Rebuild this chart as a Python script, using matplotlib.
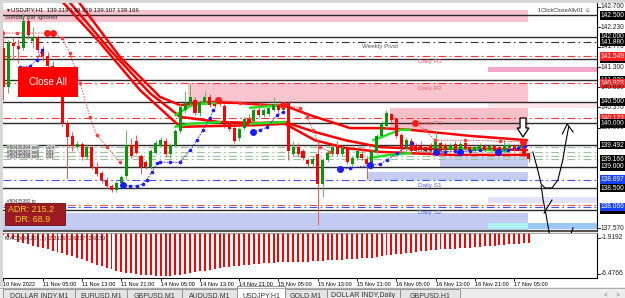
import matplotlib
matplotlib.use('Agg')
import matplotlib.pyplot as plt
from matplotlib.patches import Rectangle, Polygon
import numpy as np

plt.rcParams['font.family'] = ['Liberation Sans', 'DejaVu Sans']

# ---- data (USDJPY H1, 10 Nov 21:00 .. 17 Nov 08:00) ----

bar_open = [141.75, 140.85, 141.86, 141.80, 141.75, 142.38, 141.90, 142.00, 141.72, 141.55,
            141.32, 141.20, 140.85, 140.00, 139.70, 139.46, 139.52, 139.22, 139.45, 139.00,
            138.84, 138.70, 138.56, 138.45, 138.62, 138.78, 139.50, 139.58, 139.25, 139.10,
            139.00, 139.32, 139.48, 139.60, 139.28, 139.50, 139.82, 140.30, 140.45, 140.55,
            140.25, 140.50, 140.60, 140.45, 140.55, 140.40, 139.98, 139.90, 139.65, 139.90,
            140.10, 140.05, 140.30, 140.20, 140.22, 140.30, 140.42, 140.32, 140.48, 139.30,
            139.45, 139.35, 139.15, 139.05, 139.30, 138.60, 139.15, 139.30, 139.45, 139.30,
            139.42, 139.05, 139.20, 139.30, 139.18, 139.00, 139.35, 139.70, 139.95, 140.22,
            140.10, 139.72, 139.40, 139.60, 139.50, 139.50, 139.45, 139.50, 139.35, 139.55,
            139.50, 139.38, 139.52, 139.38, 139.55, 139.45, 139.35, 139.40, 139.48, 139.38,
            139.48, 139.45, 139.38, 139.42, 139.50, 139.40, 139.55, 139.319]
bar_high = [142.15, 141.92, 142.00, 141.95, 142.55, 142.45, 142.22, 142.05, 141.78, 141.65,
            141.45, 141.25, 140.90, 140.08, 139.80, 139.58, 139.56, 139.50, 139.50, 139.10,
            138.90, 138.75, 138.60, 138.66, 138.80, 139.85, 139.65, 139.72, 139.30, 139.15,
            139.40, 139.62, 139.68, 139.65, 139.55, 139.88, 140.45, 140.75, 140.92, 140.62,
            140.55, 140.75, 140.68, 140.55, 140.62, 140.45, 140.05, 139.95, 139.92, 140.15,
            140.22, 140.35, 140.38, 140.35, 140.40, 140.62, 140.48, 140.48, 140.52, 139.58,
            139.55, 139.40, 139.20, 139.25, 139.62, 139.20, 139.38, 139.50, 139.58, 139.48,
            139.48, 139.25, 139.40, 139.42, 139.25, 139.40, 139.75, 140.05, 140.32, 140.25,
            140.12, 139.78, 139.68, 139.65, 139.55, 139.58, 139.50, 139.55, 139.85, 139.60,
            139.55, 139.55, 139.58, 139.58, 139.60, 139.50, 139.50, 139.55, 139.52, 139.52,
            139.52, 139.50, 139.65, 139.55, 139.52, 139.52, 139.60, 139.319]
bar_low = [140.55, 140.70, 141.50, 141.40, 141.70, 141.95, 141.75, 141.62, 141.45, 141.25,
           141.10, 140.75, 139.95, 138.72, 139.35, 139.40, 139.15, 139.18, 138.95, 138.78,
           138.62, 138.50, 138.42, 138.42, 138.58, 138.72, 139.20, 139.28, 138.82, 138.95,
           138.95, 139.28, 139.45, 139.22, 139.20, 139.45, 139.78, 140.25, 140.40, 140.20,
           140.18, 140.45, 140.38, 140.35, 140.40, 139.90, 139.82, 139.55, 139.58, 139.85,
           139.95, 140.00, 140.15, 140.15, 140.18, 140.28, 140.25, 140.30, 139.15, 139.25,
           139.25, 139.15, 138.98, 139.00, 137.65, 138.30, 139.10, 139.25, 139.25, 139.25,
           139.05, 139.00, 139.15, 139.15, 138.72, 138.95, 139.30, 139.65, 139.90, 140.02,
           139.65, 139.35, 139.35, 139.30, 139.30, 139.35, 139.30, 139.30, 139.30, 139.30,
           139.35, 139.35, 139.33, 139.35, 139.35, 139.30, 139.32, 139.38, 139.33, 139.35,
           139.32, 139.33, 139.35, 139.40, 139.35, 139.38, 139.22, 139.107]
bar_close = [140.85, 141.85, 141.78, 141.72, 142.38, 142.05, 142.00, 141.70, 141.55, 141.32,
             141.20, 140.85, 140.00, 139.68, 139.48, 139.52, 139.22, 139.45, 139.00, 138.82,
             138.68, 138.55, 138.45, 138.62, 138.75, 139.50, 139.25, 139.32, 139.00, 139.00,
             139.35, 139.55, 139.62, 139.28, 139.50, 139.82, 140.38, 140.48, 140.60, 140.25,
             140.50, 140.62, 140.42, 140.40, 140.45, 139.95, 139.88, 139.60, 139.88, 140.10,
             140.00, 140.30, 140.20, 140.30, 140.35, 140.45, 140.30, 140.42, 139.35, 139.45,
             139.30, 139.20, 139.05, 139.18, 138.60, 139.15, 139.32, 139.45, 139.30, 139.42,
             139.10, 139.20, 139.35, 139.20, 139.05, 139.35, 139.70, 140.00, 140.25, 140.08,
             139.70, 139.40, 139.62, 139.35, 139.35, 139.40, 139.35, 139.35, 139.60, 139.35,
             139.40, 139.50, 139.38, 139.52, 139.40, 139.35, 139.45, 139.50, 139.38, 139.48,
             139.36, 139.38, 139.50, 139.50, 139.40, 139.48, 139.25, 139.166]

macd_hist = [-1.58, -1.85, -2.10, -2.40, -2.60, -2.75, -2.90, -3.10, -3.25, -3.40,
             -3.55, -3.70, -3.85, -4.05, -4.25, -4.45, -4.65, -4.85, -5.05, -5.30,
             -5.50, -5.70, -5.90, -6.05, -6.20, -6.30, -6.40, -6.50, -6.55, -6.60,
             -6.65, -6.70, -6.72, -6.72, -6.70, -6.65, -6.60, -6.50, -6.40, -6.25,
             -6.15, -6.05, -5.95, -5.85, -5.75, -5.65, -5.60, -5.50, -5.45, -5.38,
             -5.30, -5.25, -5.20, -5.12, -5.08, -5.05, -5.02, -5.00, -4.98, -4.97,
             -4.96, -4.95, -4.92, -4.90, -4.85, -4.80, -4.78, -4.74, -4.72, -4.70,
             -4.65, -4.60, -4.55, -4.52, -4.48, -4.42, -4.35, -4.25, -4.15, -4.05,
             -3.98, -3.92, -3.85, -3.78, -3.70, -3.62, -3.55, -3.48, -3.42, -3.38,
             -3.35, -3.32, -3.28, -3.25, -3.22, -3.20, -3.15, -3.08, -3.00, -2.95,
             -2.90, -2.84, -2.80, -2.75, -2.70, -2.65, -2.60, -2.58]

date_bars = [0, 8, 16, 24, 32, 40, 48, 56, 64, 72, 80, 88, 96, 104]
date_labels = ['10 Nov 2022', '11 Nov 05:00', '11 Nov 13:00', '11 Nov 21:00', '14 Nov 05:00',
               '14 Nov 13:00', '14 Nov 21:00', '15 Nov 05:00', '15 Nov 13:00', '15 Nov 21:00',
               '16 Nov 05:00', '16 Nov 13:00', '16 Nov 21:00', '17 Nov 05:00']

# red moving averages (bar index, price)
ma1_bar = [14, 23.7, 31.9, 36, 42, 48, 54, 57, 62.4, 70.6, 76.7, 82.8, 88.9, 95, 106.6]
ma1_val = [143.01, 141.54, 140.61, 140.42, 140.49, 140.47, 140.42, 140.42, 140.19, 139.89,
           139.89, 139.85, 139.78, 139.71, 139.61]
ma2_bar = [12, 21.7, 29.8, 36, 44, 52.2, 57.3, 63.4, 69.6, 76.7, 84.8, 97, 106.6]
ma2_val = [143.0, 141.70, 140.70, 140.15, 140.03, 140.01, 140.03, 139.80, 139.61, 139.45,
           139.41, 139.41, 139.38]
ma3_bar = [10.5, 19.7, 27.8, 36, 44, 52, 57.3, 63.4, 69.6, 76.7, 91, 106.6]
ma3_val = [143.0, 141.86, 140.77, 139.92, 139.94, 139.96, 139.99, 139.61, 139.43, 139.34,
           139.27, 139.27]

# green (rising) pieces of the averages
green_bars = [[35, 38, 40, 44.1], [35, 38, 44.1], [50.2, 57.3], [50.2, 57.3],
              [75.3, 80.8, 82.8], [74.6, 78.7, 82.8], [87.5, 102.5]]
green_vals = [[140.19, 140.40, 140.45, 140.47], [139.92, 139.99, 140.03], [140.36, 140.43],
              [139.99, 140.03], [139.61, 139.85, 139.85], [139.20, 139.27, 139.31],
              [139.45, 139.36]]

# dotted red trailing line
red_dot_bars = [[-0.1, 2.7, 8.9, 10.1, 11.9, 13.5, 15.6, 17.6, 19, 21.1, 23.7],
                [43.7, 48.2, 52.2, 56.9, 60.4, 61.8, 63.0, 64.5, 66.5],
                [83.8, 85.8, 87.9, 94, 101.1, 105.8]]
red_dot_vals = [[142.09, 142.09, 142.09, 142.09, 141.98, 141.63, 140.93, 140.15, 139.73, 139.45, 139.10],
                [140.54, 140.47, 140.45, 140.43, 140.36, 140.15, 139.85, 139.45, 139.34],
                [140.01, 139.85, 139.61, 139.61, 139.59, 139.57]]
red_big_bar = [8.9, 10.1, 43.7, 56.9, 83.8, 105.8]
red_big_val = [142.09, 142.09, 140.54, 140.43, 140.01, 139.57]

# dotted blue trailing line
blue_dot_bars = [[3.4, 5.4, 6.8, 7.8],
                 [24.3, 25.8, 27.2, 28.4, 29.2, 30.2, 31.3, 31.9, 33.9, 35.9, 38, 39.4, 40.6, 42.1, 42.7],
                 [50.8, 52.2, 53.7, 55.7, 56.9],
                 [68.5, 70.6, 74.6, 76.7, 78.1, 80.1, 83.2],
                 [88, 90, 92], [93, 95, 97], [100.7, 102.7, 104.8, 106.2]]
blue_dot_vals = [[141.30, 141.33, 141.47, 141.70],
                 [138.57, 138.55, 138.55, 138.60, 138.69, 138.87, 139.08, 139.10, 139.10, 139.10,
                  139.38, 139.61, 139.85, 140.12, 140.31],
                 [139.80, 139.85, 139.91, 140.19, 140.26],
                 [138.94, 138.96, 139.03, 139.06, 139.15, 139.31, 139.55],
                 [139.34, 139.34, 139.36], [139.34, 139.36, 139.38], [139.34, 139.38, 139.43, 139.47]]
blue_big_bar = [24.3, 50.8, 68.5, 74.6, 88, 93, 100.7]
blue_big_val = [138.57, 139.80, 138.94, 139.03, 139.34, 139.34, 139.34]

# horizontal levels
round_levels = [142.5, 142.0, 141.5, 141.0, 140.5, 140.0, 139.5, 139.0, 138.5, 138.0]
weekly_pivot = 141.88
daily_r = [141.549, 140.923, 140.123]
daily_s = [138.697, 138.066]
tp_level = 138.10
order_levels = [139.45, 139.34, 139.24, 139.166]

# shaded zones: bar range and price range
zone_x0 = [-1, 37.6, 78.7, 98.7, 98.7, 88.9, 74.0, 98.7, -1, 98.7, 106.8]
zone_x1 = [106.8, 106.8, 106.8, 121, 121, 106.8, 106.8, 121, 106.8, 106.8, 121]
zone_lo = [142.346, 140.494, 139.846, 140.355, 141.188, 138.97, 138.69, 138.16, 137.50, 137.555, 137.555]
zone_hi = [142.625, 140.934, 140.355, 140.494, 141.304, 139.22, 138.87, 138.30, 137.925, 137.69, 137.69]

level_names = ['Daily R3', 'Daily R2', 'Daily R1', 'Daily Pivot', 'Daily S1', 'Daily S2']
level_name_val = [141.44, 140.80, 139.985, 139.38, 138.55, 137.925]

label_prices = [142.700, 142.500, 142.230, 142.000, 141.880, 141.770, 141.500, 141.549, 141.300,
                141.000, 140.923, 140.830, 140.500, 140.370, 140.123, 140.000, 139.900, 139.430,
                139.492, 139.166, 139.000, 138.697, 138.500, 138.000, 138.066, 137.570]
label_kinds = ['n', 'k', 'n', 'k', 'k', 'n', 'k', 'r', 'n',
               'k', 'r', 'n', 'k', 'n', 'r', 'k', 'n', 'n',
               'k', 'k', 'k', 'b', 'k', 'k', 'b', 'n']

# hand drawn arrows (bar index, price)
draw_up_bar = [107.8, 108.7, 109.5, 110.3, 111.7, 112.9, 113.9, 114.6, 115.1]
draw_up_val = [139.336, 138.966, 138.596, 138.503, 138.503, 138.688, 139.151, 139.614, 139.915]
draw_up_head_bar = [113.8, 114.8, 116.0]
draw_up_head_val = [139.753, 139.985, 139.799]
draw_dn_bar = [109.5, 109.9, 110.5, 111.1, 111.9]
draw_dn_val = [138.55, 138.23, 137.88, 137.49, 137.07]
draw_hook_bar = [111.1, 112.1, 113.7, 115.1, 116.0]
draw_hook_val = [137.23, 137.045, 137.09, 137.30, 137.58]
draw_cross_bar = [111.7, 110.1]
draw_cross_val = [138.225, 137.925]
block_arrow_bar = [105.2, 106.4, 106.4, 107.0, 105.8, 104.6, 105.2]
block_arrow_val = [140.124, 140.124, 139.892, 139.892, 139.684, 139.892, 139.892]

tab_names = ['DOLLAR INDY,M1', 'EURUSD,M1', 'GBPUSD,M1', 'AUDUSD,M1', 'USDJPY,H1',
             'GOLD,M1', 'DOLLAR INDY,Daily', 'GBPUSD,H1']

# ---- figure ----
W, H = 625.0, 298.0
fig = plt.figure(figsize=(6.25, 2.98), dpi=100)
fig.patch.set_facecolor('white')

def box(x0, y0, x1, y1):
    return [x0 / W, 1 - y1 / H, (x1 - x0) / W, (y1 - y0) / H]

ax = fig.add_axes(box(3, 3, 597, 231))
mx = fig.add_axes(box(3, 233, 597, 278))
XL = (-0.1, 120.87)

ax.set_xlim(*XL)
ax.set_ylim(137.508, 142.786)
ax.set_xticks([])
ax.set_yticks([])
for s in ['left', 'top']:
    ax.spines[s].set_visible(False)
ax.spines['right'].set_color('black')
ax.spines['right'].set_linewidth(0.8)
ax.spines['bottom'].set_color('#555555')
ax.spines['bottom'].set_linewidth(1.6)

zone_colors = ['#f9c4cd', '#f9c4cd', '#f7bfc8', '#fde4e8', '#f2a6cc', '#c6cef2',
               '#c4ccf2', '#e2e2fa', '#c2ccf2', '#aff0f0', '#9cc8f8']
for x0, x1, lo, hi, c in zip(zone_x0, zone_x1, zone_lo, zone_hi, zone_colors):
    ax.add_patch(Rectangle((x0, lo), x1 - x0, hi - lo, fc=c, ec='none', zorder=0.5))

for lv in round_levels:
    ax.axhline(lv, color='#2a2a2a', lw=1.0, zorder=1)

dd = (0, (7, 3, 1.5, 3))
ax.axhline(weekly_pivot, color='#333333', lw=0.8, ls=dd, zorder=1.2)
for lv in daily_r:
    ax.axhline(lv, color='#ff3030', lw=0.8, ls=dd, zorder=1.2)
ax.axhline(tp_level, color='#ff5050', lw=0.8, ls=dd, zorder=1.2)
for lv in daily_s:
    ax.axhline(lv, color='#4050ff', lw=0.8, ls=dd, zorder=1.2)
for lv in order_levels:
    ax.axhline(lv, color='#9cbf9c', lw=0.8, ls=dd, zorder=1.2)

# averages
for b, v in [(ma1_bar, ma1_val), (ma2_bar, ma2_val), (ma3_bar, ma3_val)]:
    ax.plot(b, v, color='#ff0000', lw=1.8, zorder=2, solid_capstyle='round')
for b, v in zip(green_bars, green_vals):
    ax.plot(b, v, color='#22e022', lw=1.8, zorder=2.1, solid_capstyle='round')

# candles
idx = np.arange(len(bar_open))
up = np.array(bar_close) >= np.array(bar_open)
body_lo = np.minimum(bar_open, bar_close)
body_h = np.maximum(np.abs(np.array(bar_close) - np.array(bar_open)), 0.015)
ax.vlines(idx, bar_low, bar_high, colors=np.where(up, '#55c055', '#ff5050'), lw=0.7, zorder=3)
ax.bar(idx, body_h, bottom=body_lo, width=0.62, color=np.where(up, '#0a960a', '#ff0000'),
       lw=0, zorder=3.1)

# trailing dotted lines
for b, v in zip(red_dot_bars, red_dot_vals):
    ax.plot(b, v, color='#ff3a3a', lw=0.6, ls=(0, (2, 1.5)), marker='o', ms=1.6, zorder=4)
ax.plot(red_big_bar, red_big_val, 'o', color='#ff1a1a', ms=4, zorder=4.1)
for b, v in zip(blue_dot_bars, blue_dot_vals):
    ax.plot(b, v, color='#1a1aff', lw=0.6, ls=(0, (2, 1.5)), marker='o', ms=1.6, zorder=4)
ax.plot(blue_big_bar, blue_big_val, 'o', color='#1a1aff', ms=4, zorder=4.1)

# level names
name_colors = ['#f06060', '#f06060', '#f06060', '#404040', '#5060e0', '#5060e0']
for n, v, c in zip(level_names, level_name_val, name_colors):
    ax.text(84.4, v, n, fontsize=4.6, color=c, va='center', ha='left', zorder=5)
ax.text(73, 141.79, 'Weekly Pivot', fontsize=4.5, color='#555555', va='center', ha='left', zorder=5)

# price scale labels
ytr = ax.get_yaxis_transform()
kind_bg = {'k': 'black', 'r': '#ff2020', 'b': '#1840ff'}
for p, k in zip(label_prices, label_kinds):
    s = '%.3f' % p
    if k == 'n':
        ax.plot([1, 1.005], [p, p], transform=ytr, color='black', lw=0.6, clip_on=False)
        ax.text(1.0065, p, s, transform=ytr, fontsize=4.8, color='#222222', va='center',
                ha='left', clip_on=False)
    else:
        ax.text(1.0065, p, s, transform=ytr, fontsize=4.8, color='white', va='center', ha='left',
                clip_on=False, bbox=dict(boxstyle='square,pad=0.1', fc=kind_bg[k], ec='none'))

# hand drawn marks
ax.add_patch(Polygon(list(zip(block_arrow_bar, block_arrow_val)), closed=True, fc='white',
                     ec='black', lw=0.9, zorder=6))
for b, v in [(draw_up_bar, draw_up_val), (draw_up_head_bar, draw_up_head_val),
             (draw_dn_bar, draw_dn_val), (draw_hook_bar, draw_hook_val),
             (draw_cross_bar, draw_cross_val)]:
    ax.plot(b, v, color='black', lw=0.8, clip_on=False, zorder=6)

# MACD panel
mx.set_xlim(*XL)
mx.set_ylim(-6.98, -1.33)
mx.bar(idx, macd_hist, width=0.4, color='#ff0000', lw=0)
mx.set_yticks([])
mx.set_xticks(date_bars)
mx.set_xticklabels(date_labels, fontsize=4.1, ha='left')
mx.tick_params(axis='x', length=2, width=0.6, pad=0.8)
for s in ['left']:
    mx.spines[s].set_visible(False)
mx.spines['top'].set_color('#999999')
mx.spines['top'].set_linewidth(0.6)
mx.spines['right'].set_linewidth(0.8)
mx.spines['bottom'].set_linewidth(0.8)
mtr = mx.get_yaxis_transform()
for p in [-1.9192, -6.4766]:
    mx.plot([1, 1.005], [p, p], transform=mtr, color='black', lw=0.6, clip_on=False)
    mx.text(1.0065, p, '%.4f' % p, transform=mtr, fontsize=4.8, color='#222222', va='center',
            ha='left', clip_on=False)
mx.text(0.003, 0.88, 'MACD(34,204,1) -2.3139 -2.6337 -2.6139', transform=mx.transAxes,
        fontsize=3.9, color='#222222', va='center', ha='left')

# window overlay in pixel coordinates
ov = fig.add_axes([0, 0, 1, 1])
ov.set_xlim(0, W)
ov.set_ylim(H, 0)
ov.axis('off')
ov.add_patch(Rectangle((0, 0), 3, 287, fc='#d6d6d6', ec='none'))
ov.add_patch(Rectangle((0, 0), 625, 2.5, fc='#d6d6d6', ec='none'))
ov.text(5, 10, '\u25bc', fontsize=3.5, color='#222222', va='center', ha='left')
ov.text(11, 10, 'USDJPY,H1  139.319 139.319 139.107 139.166', fontsize=4.3, color='#111111',
        va='center', ha='left')
ov.text(5, 18, 'Sunday Bar Ignored', fontsize=4.2, color='#333333', va='center', ha='left')
ov.text(590, 10, '1ClickCloseAllv01 \u263a', fontsize=4.1, color='#333333', va='center', ha='right')

ov.add_patch(Rectangle((18, 67), 60, 30, fc='#ff0000', ec='none'))
ov.text(48, 82, 'Close All', fontsize=7, color='white', va='center', ha='center')

ov.add_patch(Rectangle((5, 203), 60, 22, fc='#9c1a22', ec='#6a0e12', lw=0.6))
ov.text(8, 209.5, 'ADR: 215.2', fontsize=6.4, color='#f2d020', va='center', ha='left')
ov.text(15, 219.5, 'DR: 68.9', fontsize=6.4, color='#f2d020', va='center', ha='left')

for k, (t, n) in enumerate([('#50435394 sell', '0.24'), ('#50435391 sell', '0.01'),
                            ('#50435386 sell', '0.01')]):
    yy = 147.5 + k * 4.6
    ov.text(7, yy, t, fontsize=3.3, color='#333333', va='center', ha='left',
            bbox=dict(boxstyle='square,pad=0.05', fc='#dcdcdc', ec='none'))
    ov.text(46, yy, n, fontsize=3.3, color='#333333', va='center', ha='left',
            bbox=dict(boxstyle='square,pad=0.05', fc='#dcdcdc', ec='none'))
ov.text(7, 202, '#50435382 tp', fontsize=3.3, color='#333333', va='center', ha='left')

# bottom tabs
tab_edges = [3, 75, 127, 182, 237, 285, 327, 400, 460]
ov.add_patch(Rectangle((0, 287), 625, 11, fc='#ececec', ec='none'))
ov.plot([0, 625], [287.5, 287.5], color='#a0a0a0', lw=0.6)
for k, name in enumerate(tab_names):
    x0, x1 = tab_edges[k], tab_edges[k + 1]
    active = name == 'USDJPY,H1'
    ov.add_patch(Rectangle((x0, 286 if active else 288.5), x1 - x0, 12,
                           fc='white' if active else '#e4e4e4', ec='#8a8a8a', lw=0.6))
    ov.text((x0 + x1) / 2, 295.5, name, fontsize=5, color='#333333', va='center', ha='center')
ov.text(606, 295, '<', fontsize=5, color='#777777', va='center', ha='center')
ov.text(618, 295, '>', fontsize=5, color='#777777', va='center', ha='center')

fig.savefig('out.png', dpi=100)
